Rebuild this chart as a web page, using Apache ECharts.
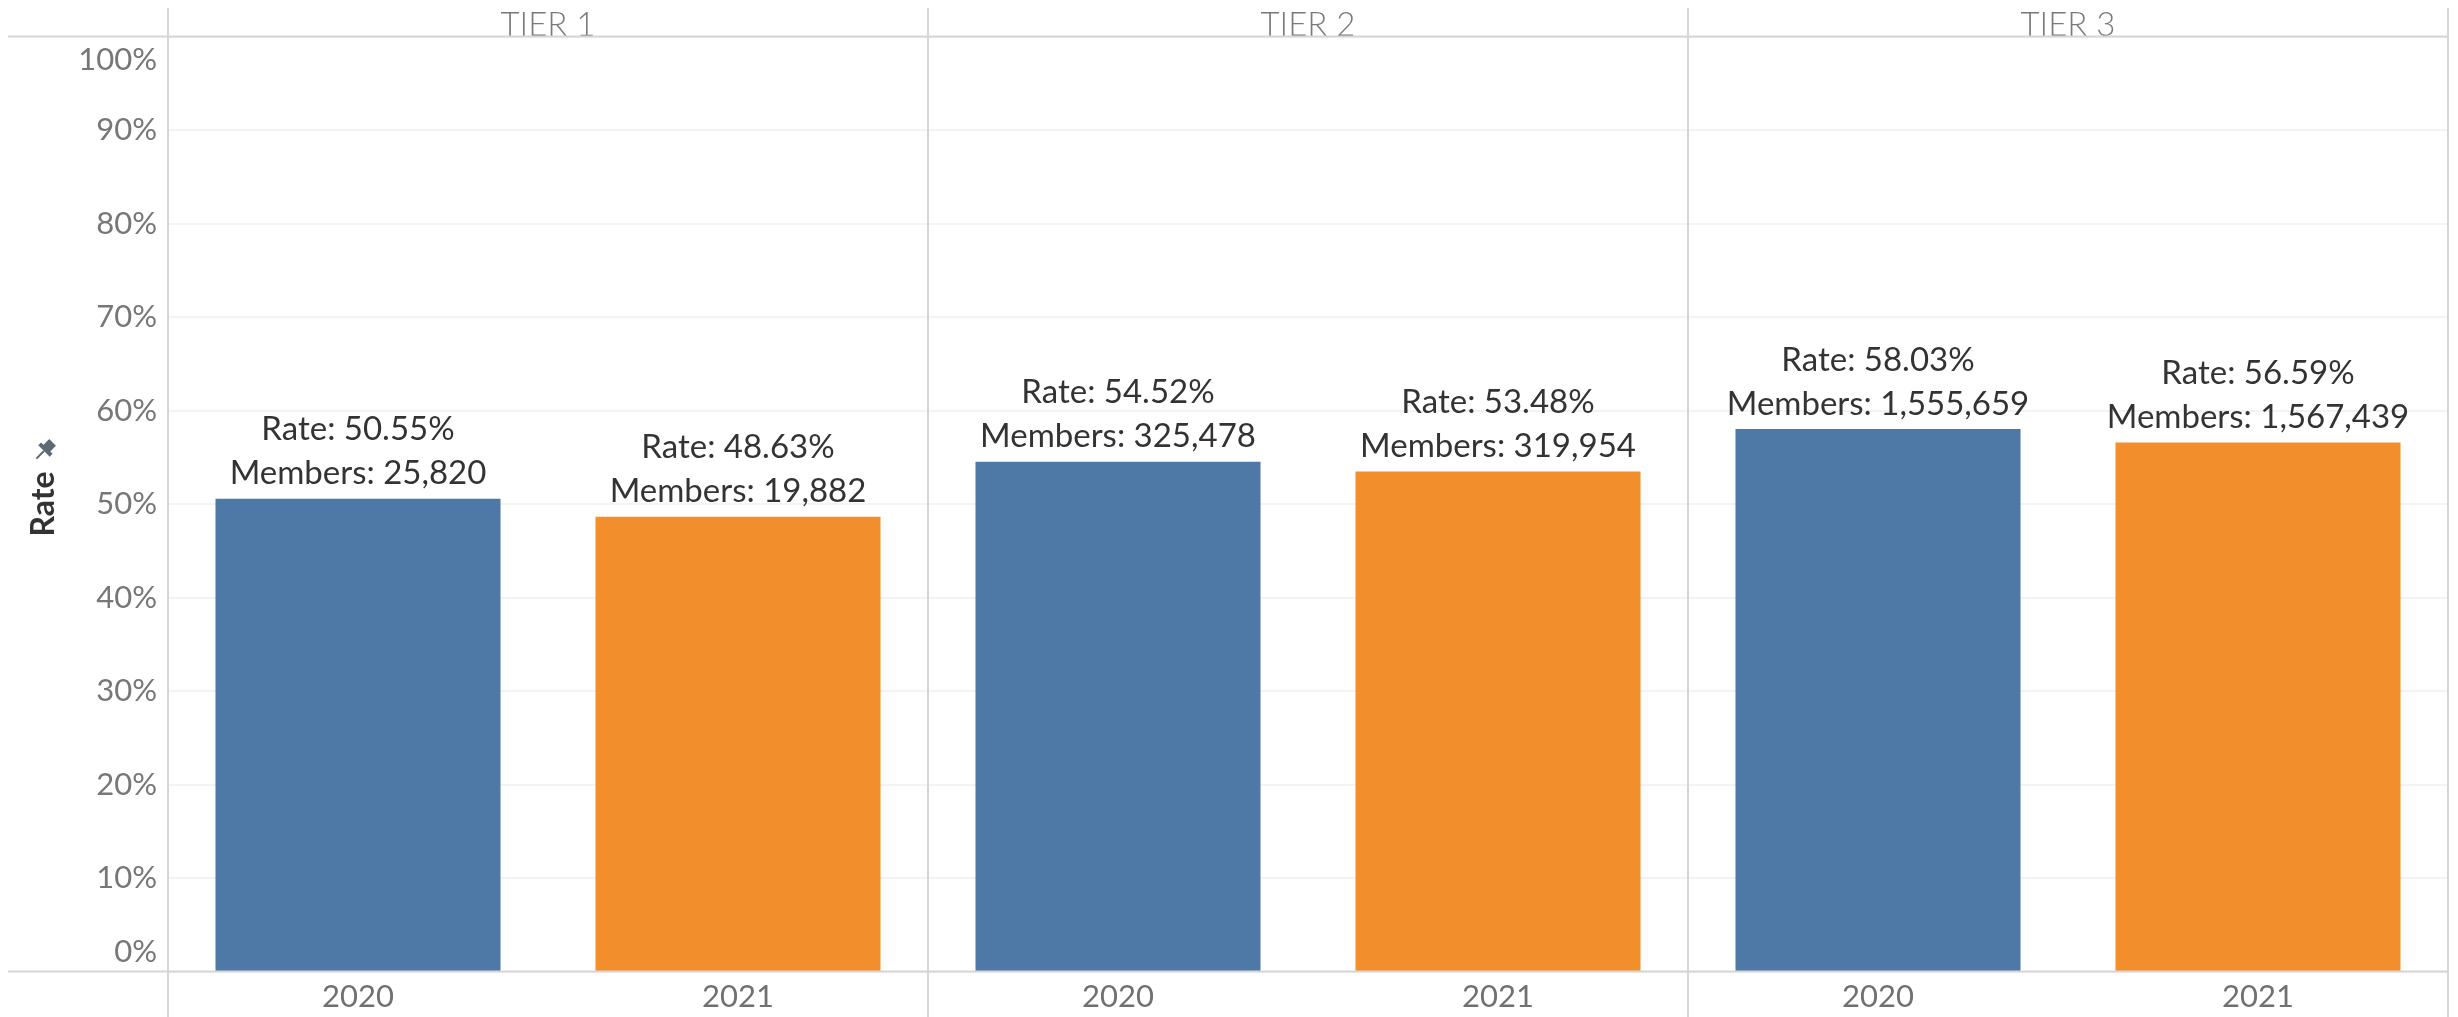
<!DOCTYPE html>
<html>
<head>
<meta charset="utf-8">
<title>Rate by Tier</title>
<script src="https://cdn.jsdelivr.net/npm/echarts@6/dist/echarts.min.js"></script>
<style>
  html, body { margin: 0; padding: 0; background: #fff; }
  #chart { width: 2458px; height: 1017px; }
</style>
</head>
<body>
<div id="chart"></div>
<script>
// Data
const tiers = ['TIER 1', 'TIER 2', 'TIER 3'];
const years = ['2020', '2021'];
const rate2020 = [50.55, 54.52, 58.03];
const rate2021 = [48.63, 53.48, 56.59];
const members2020 = [25820, 325478, 1555659];
const members2021 = [19882, 319954, 1567439];

// Styling
const yearColors = { '2020': '#4e79a7', '2021': '#f28e2b' };
const FONT = 'Lato, "Open Sans", sans-serif';
const FRAME = '#d6d6d6';

// Layout of the plotting area
const L = 168, R = 2448, TOP = 36.5, BASE = 971.5;
const W = 2458, H = 1017;

// One category per tier/year pair
const categories = [];
const barData = [];
tiers.forEach((t, i) => {
  years.forEach((y, j) => {
    const rate = j === 0 ? rate2020[i] : rate2021[i];
    const members = j === 0 ? members2020[i] : members2021[i];
    categories.push(y);
    barData.push({ value: rate, members: members, itemStyle: { color: yearColors[y] } });
  });
});

const chart = echarts.init(document.getElementById('chart'), null, { renderer: 'canvas' });

// Panel frame: header rule, baseline and tier dividers
const panelW = (R - L) / tiers.length;
const frame = [
  { type: 'line', shape: { x1: 8, y1: TOP, x2: R, y2: TOP }, style: { stroke: FRAME, lineWidth: 2 }, z: 50 },
  { type: 'line', shape: { x1: 8, y1: BASE, x2: R, y2: BASE }, style: { stroke: FRAME, lineWidth: 2 }, z: 50 }
];
for (let k = 0; k <= tiers.length; k++) {
  const x = L + k * panelW;
  frame.push({ type: 'line', shape: { x1: x, y1: 8, x2: x, y2: H }, style: { stroke: FRAME, lineWidth: 2 }, z: 50 });
}
// Pin glyph next to the axis title
frame.push({
  type: 'group', x: 44, y: 451, rotation: -Math.PI / 4, scaleX: 1.35, scaleY: 1.35, z: 60,
  children: [
    { type: 'rect', shape: { x: -3.5, y: -9, width: 7, height: 7 }, style: { fill: '#5f6873' } },
    { type: 'rect', shape: { x: -6, y: -3, width: 12, height: 3 }, style: { fill: '#5f6873' } },
    { type: 'line', shape: { x1: 0, y1: 0, x2: 0, y2: 8 }, style: { stroke: '#5f6873', lineWidth: 1.5 } }
  ]
});

const option = {
  animation: false,
  backgroundColor: '#ffffff',
  grid: { left: L, right: W - R, top: TOP, bottom: H - BASE, containLabel: false },
  xAxis: [
    {
      type: 'category',
      data: categories,
      position: 'bottom',
      axisLine: { show: false },
      axisTick: { show: false },
      axisLabel: { color: '#707070', fontFamily: FONT, fontSize: 31, margin: 10 }
    },
    {
      type: 'category',
      data: tiers,
      position: 'top',
      axisLine: { show: false },
      axisTick: { show: false },
      axisLabel: { color: '#7a7a7a', fontFamily: FONT, fontSize: 33, fontWeight: 300, margin: -5 }
    }
  ],
  yAxis: {
    type: 'value',
    min: 0,
    max: 100,
    interval: 10,
    name: 'Rate',
    nameLocation: 'middle',
    nameRotate: 90,
    nameGap: 108,
    nameTextStyle: { color: '#333', fontFamily: FONT, fontSize: 32, fontWeight: 'bold' },
    axisLine: { show: false },
    axisTick: { show: false },
    splitLine: { lineStyle: { color: '#efefef', width: 1.5 } },
    axisLabel: {
      margin: 11,
      formatter: function (v) {
        if (v === 100) return '{hi|' + v + '%}';
        if (v === 0) return '{lo|' + v + '%}';
        return '{n|' + v + '%}';
      },
      rich: {
        n: { color: '#777', fontFamily: FONT, fontSize: 31 },
        hi: { color: '#777', fontFamily: FONT, fontSize: 31, padding: [47, 0, 0, 0] },
        lo: { color: '#777', fontFamily: FONT, fontSize: 31, padding: [0, 0, 39, 0] }
      }
    }
  },
  series: [
    {
      type: 'bar',
      xAxisIndex: 0,
      data: barData,
      barWidth: '75%',
      label: {
        show: true,
        position: 'top',
        distance: 3,
        color: '#333',
        fontFamily: FONT,
        fontSize: 33,
        lineHeight: 44,
        formatter: function (p) {
          return 'Rate: ' + p.value.toFixed(2) + '%\nMembers: ' + p.data.members.toLocaleString('en-US');
        }
      }
    }
  ],
  graphic: frame
};

chart.setOption(option);
</script>
</body>
</html>
